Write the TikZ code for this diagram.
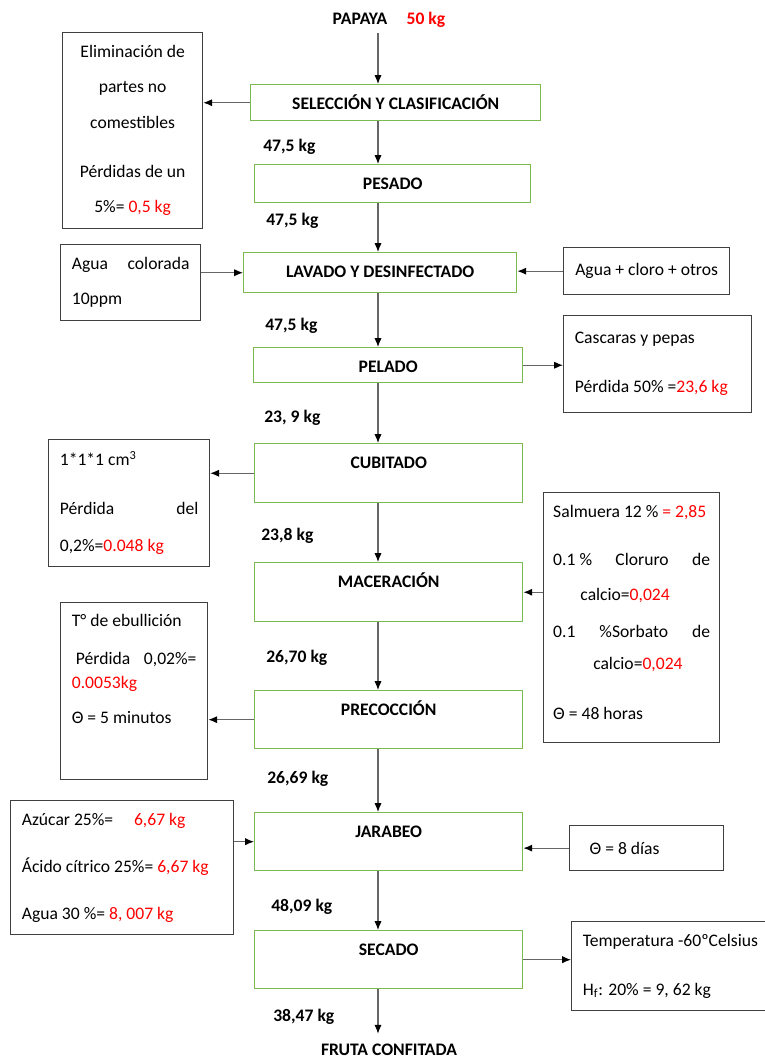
\documentclass[tikz,border=0pt]{standalone}
\usepackage{fontspec}
\setmainfont{Carlito}
\usetikzlibrary{positioning,arrows.meta}
\definecolor{verde}{RGB}{122,186,80}
\newcommand{\rojo}[1]{\textcolor{red}{#1}}
\begin{document}
\begin{tikzpicture}[x=0.625pt,y=-0.625pt,
  paso/.style={draw=verde,line width=0.9pt,anchor=north west,inner xsep=0pt,inner ysep=4pt,text height=11.7pt,font=\fontsize{11}{13}\selectfont\bfseries},
  caja/.style={draw=black!75,line width=0.8pt,anchor=north west,inner xsep=7pt,inner ysep=0pt,font=\fontsize{11}{22}\selectfont},
  masa/.style={anchor=west,inner xsep=0pt,font=\fontsize{11}{13}\selectfont\bfseries},
  flecha/.style={-{Latex[length=5.5pt,width=4.5pt,black]},draw=black!60,line width=0.7pt}]
\useasboundingbox (0,0) rectangle (764,1059);
\coordinate (eje) at (378,0);
% linea principal
\node[font=\fontsize{11}{13}\selectfont\bfseries] (papaya) at (389,20) {PAPAYA\hspace{1.1em}\rojo{50 kg}};
\node[paso,minimum width=181.25pt,text depth=2.8pt] (sel) at (250,84) {SELECCIÓN Y CLASIFICACIÓN};
\node[paso,minimum width=172.5pt,text depth=4pt] (pes) at (254,164) {PESADO};
\node[paso,minimum width=170.6pt,text depth=5.3pt] (lav) at (243,252) {LAVADO Y DESINFECTADO};
\node[paso,minimum width=168.1pt,text depth=2.2pt] (pel) at (253,347) {PELADO};
\node[paso,minimum width=167.5pt,text depth=17.2pt] (cub) at (254,443) {CUBITADO};
\node[paso,minimum width=167.5pt,text depth=17.2pt] (mac) at (254,562) {MACERACIÓN};
\node[paso,minimum width=167.5pt,text depth=16.5pt] (pre) at (254,690) {PRECOCCIÓN};
\node[paso,minimum width=167.5pt,text depth=16.5pt] (jar) at (254,812) {JARABEO};
\node[paso,minimum width=167.5pt,text depth=16.5pt] (sec) at (254,930) {SECADO};
\node[font=\fontsize{11}{13}\selectfont\bfseries] (fruta) at (389,1050) {FRUTA CONFITADA};
% masas
\node[masa] (m1) at (263,147) {47,5 kg};
\node[masa] (m2) at (266,221) {47,5 kg};
\node[masa] (m3) at (265,326) {47,5 kg};
\node[masa] (m4) at (264,418) {23, 9 kg};
\node[masa] (m5) at (261,536) {23,8 kg};
\node[masa] (m6) at (266,658) {26,70 kg};
\node[masa] (m7) at (267,779) {26,69 kg};
\node[masa] (m8) at (271,907) {48,09 kg};
\node[masa] (m9) at (273,1017) {38,47 kg};
% cajas laterales
\node[caja,minimum height=122.5pt,text width=73.5pt,align=flush center] (elim) at (62,32)
  {Eliminación de\\partes no\\comestibles\\[9pt]Pérdidas de un\\5\%= \rojo{0,5 kg}};
\node[caja,minimum height=47.5pt,text width=73.5pt,align=flush left] (agua1) at (60,244)
  {Agua\hfill colorada\\10ppm};
\node[caja,minimum width=103.75pt,minimum height=29.4pt] (agua2) at (563,247)
  {Agua + cloro + otros};
\node[caja,minimum height=60.6pt,text width=103.5pt,align=flush left] (casc) at (563,315)
  {Cascaras y pepas\\[8.6pt]Pérdida 50\% =\rojo{23,6 kg}};
\node[caja,minimum height=79.4pt,text width=86.6pt,align=flush left] (cubo) at (48,439)
  {1*1*1 cm\textsuperscript{3}\\[8.6pt]Pérdida\hfill del\\[1pt]0,2\%=\rojo{0.048 kg}};
\node[caja,inner xsep=6pt,minimum height=156.25pt,text width=98pt,align=flush left] (salm) at (543,492)
  {Salmuera 12 \% \rojo{= 2,85}\\[8pt]0.1 \%\hfill Cloruro\hfill de\\\hspace*{17pt}calcio=\rojo{0,024}\\[1pt]0.1\hfill\%Sorbato\hfill de\\[-2pt]\hspace*{25pt}calcio=\rojo{0,024}\\[9.5pt]Θ = 48 horas\\[-15.8pt]\mbox{}};
\node[caja,minimum height=110.6pt,text width=77.9pt,align=flush left] (ebul) at (60,602)
  {T° de ebullición\\[2pt]\hspace*{2.5pt}Pérdida\hfill 0,02\%=\\[-7pt]\rojo{0.0053kg}\\Θ = 5 minutos\\[6pt]\mbox{}};
\node[caja,minimum height=83.75pt,text width=125.4pt,align=flush left] (azuc) at (10,800)
  {Azúcar 25\%=\hspace{13pt}\rojo{6,67 kg}\\[7.4pt]Ácido cítrico 25\%= \rojo{6,67 kg}\\[7.4pt]Agua 30 \%= \rojo{8, 007 kg}};
\node[caja,minimum height=28.1pt,text width=82.25pt,align=flush left] (dias) at (569,825)
  {\hspace*{5.5pt}Θ = 8 días};
\node[caja,minimum height=55.6pt,text width=117pt,align=flush left] (temp) at (571,921)
  {Temperatura -60ºCelsius\\[8.6pt]H\textsubscript{f}: 20\% = 9, 62 kg};
% flechas
\draw[flecha] (papaya.south -| eje) -- (sel.north -| eje);
\foreach \a/\b in {sel/pes,pes/lav,lav/pel,pel/cub,cub/mac,mac/pre,pre/jar,jar/sec}
  \draw[flecha] (\a.south -| eje) -- (\b.north -| eje);
\draw[flecha,shorten >=3pt] (sec.south -| eje) -- (fruta.north -| eje);
\draw[flecha] (sel.west) -- (sel.west -| elim.east);
\draw[flecha] (agua1.east |- lav.west) -- (lav.west);
\draw[flecha] (agua2.west) -- (agua2.west -| lav.east);
\draw[flecha] (pel.east) -- (pel.east -| casc.west);
\draw[flecha] (cub.west) -- (cub.west -| cubo.east);
\draw[flecha] (salm.west |- mac.east) -- (mac.east);
\draw[flecha] (pre.west) -- (pre.west -| ebul.east);
\draw[flecha] (azuc.east |- jar.west) -- (jar.west);
\draw[flecha] (dias.west) -- (dias.west -| jar.east);
\draw[flecha] (sec.east) -- (sec.east -| temp.west);
\end{tikzpicture}
\end{document}
